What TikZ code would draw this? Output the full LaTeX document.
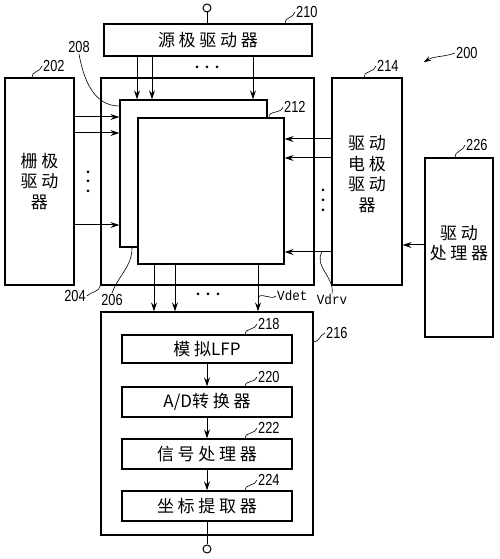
\documentclass[tikz,border=0pt]{standalone}
\usepackage{fontspec}
\usetikzlibrary{arrows.meta}
\newfontfamily\cjkfont[LetterSpace=22]{Noto Sans CJK SC}
\newfontfamily\latfont{Noto Sans CJK SC}
\newfontfamily\numfont[FakeStretch=0.8]{Liberation Sans}
\newfontfamily\vfont[FakeStretch=0.9]{Liberation Mono}

\begin{document}
\begin{tikzpicture}[x=1pt,y=1pt,
  txt/.style={inner sep=0pt,align=center,font=\cjkfont\fontsize{17}{20.5}\selectfont},
  box/.style={txt,draw,line width=1.3pt,fill=white},
  num/.style={inner sep=1pt,font=\numfont\fontsize{16}{16}\selectfont},
  vlab/.style={inner sep=1pt,font=\vfont\fontsize{14}{14}\selectfont},
  arr/.style={line width=1pt,-{Stealth[length=9pt,width=6pt]}},
  lead/.style={line width=0.6pt},
  term/.style={draw,circle,line width=1pt,minimum size=8pt,inner sep=0pt}]
\useasboundingbox (0,0) rectangle (500,559);

\node[term] (tin) at (207,551) {};
\node[box,minimum width=208pt,minimum height=32pt] (srcdrv) at (208,519) {源极驱动器};
\node[box,minimum width=213pt,minimum height=207pt] (panel) at (207.5,377.5) {};
\node[box,minimum width=147pt,minimum height=147pt] (back) at (193.5,385.5) {};
\node[box,minimum width=146pt,minimum height=146pt] (front) at (211,368) {};
\node[box,minimum width=69pt,minimum height=207pt] (gatedrv) at (39.5,377.5) {栅极\\驱动\\器};
\node[box,minimum width=70pt,minimum height=207pt] (elecdrv) at (367,377.5) {};
\node[txt] (electxt) at (367,385) {驱动\\电极\\驱动\\器};
\node[box,minimum width=68pt,minimum height=179pt] (proc) at (459,311.5) {};
\node[txt] (proctxt) at (459,316) {驱动\\处理器};
\node[box,minimum width=212pt,minimum height=223pt] (detect) at (207,135.5) {};
\node[box,minimum width=170pt,minimum height=28pt] (lfp) at (207,210) {模拟{\latfont LFP}};
\node[box,minimum width=170pt,minimum height=30pt] (adc) at (207,157) {{\latfont A/D}转换器};
\node[box,minimum width=170pt,minimum height=30pt] (sigproc) at (207,105) {信号处理器};
\node[box,minimum width=170pt,minimum height=30pt] (coordext) at (207,53) {坐标提取器};
\node[term] (tout) at (207,10) {};

\node[num,anchor=west] (l210) at (295,547) {210};
\node[num,anchor=west] (l202) at (42,493) {202};
\node[num] (l208) at (79,512) {208};
\node[num,anchor=west] (l212) at (283,452) {212};
\node[num,anchor=west] (l214) at (376,493) {214};
\node[num,anchor=west] (l200) at (455,506) {200};
\node[num,anchor=west] (l226) at (465,414) {226};
\node[num] (l204) at (75,263) {204};
\node[num] (l206) at (112,259) {206};
\node[vlab,anchor=west] (lvdet) at (276,263) {Vdet};
\node[vlab] (lvdrv) at (332,259) {Vdrv};
\node[num,anchor=west] (l216) at (325,226) {216};
\node[num,anchor=west] (l218) at (257,235) {218};
\node[num,anchor=west] (l220) at (257,182) {220};
\node[num,anchor=west] (l222) at (257,131) {222};
\node[num,anchor=west] (l224) at (257,79) {224};
\coordinate (p200) at (424,497);
\coordinate (vd) at (258,262);
\coordinate (vr) at (322,307);

\draw[line width=1pt] (tin) -- (tin |- srcdrv.north);
\draw[line width=1pt] (coordext) -- (tout);
\foreach \x in {137,152,253} \draw[arr] (srcdrv.south -| \x,0) -- (back.north -| \x,0);
\foreach \y in {442,426,334} \draw[arr] (gatedrv.east |- 0,\y) -- (back.west |- 0,\y);
\foreach \y in {420,401,307} \draw[arr] (elecdrv.west |- 0,\y) -- (front.east |- 0,\y);
\draw[arr] (proc.west |- 0,314) -- (elecdrv.east |- 0,314);
\foreach \x in {154,175,258} \draw[arr] (front.south -| \x,0) -- (detect.north -| \x,0);
\draw[arr] (lfp) -- (adc);
\draw[arr] (adc) -- (sigproc);
\draw[arr] (sigproc) -- (coordext);

\foreach \x in {197,207,217} \fill (\x,492) circle (1.5pt);
\foreach \y in {387,378,368} \fill (88,\y) circle (1.5pt);
\foreach \y in {369,359,349} \fill (323,\y) circle (1.5pt);
\foreach \x in {198,208,218} \fill (\x,265) circle (1.5pt);

\draw[lead] (srcdrv.north -| 285,0) to[out=100,in=-100] (l210.west);
\draw[lead] (gatedrv.north -| 32,0) to[out=100,in=-100] (l202.west);
\draw[lead] (l208.south) to[out=-80,in=180] (back.west |- 0,453);
\draw[lead] (front.north -| 269,0) to[out=100,in=-100] (l212.west);
\draw[lead] (elecdrv.north -| 364,0) to[out=100,in=-100] (l214.west);
\draw[lead] (proc.north -| 455,0) to[out=100,in=-100] (l226.west);
\draw[lead,-{Stealth[length=7pt,width=5pt]}] (l200.west) to[out=200,in=30] (p200);
\draw[lead] (panel.south west) to[out=-100,in=45] (l204.east);
\draw[lead] (back.south -| 132,0) to[out=-90,in=70] (l206.north);
\draw[lead] (vd) to[out=40,in=220] (lvdet.west);
\draw[lead] (vr) to[out=-120,in=80] (lvdrv.north);
\draw[lead] (detect.east |- 0,217) to[out=0,in=-160] (l216.west);
\draw[lead] (lfp.north -| 245,0) to[out=100,in=-100] (l218.west);
\draw[lead] (adc.north -| 245,0) to[out=100,in=-100] (l220.west);
\draw[lead] (sigproc.north -| 245,0) to[out=100,in=-100] (l222.west);
\draw[lead] (coordext.north -| 245,0) to[out=100,in=-100] (l224.west);
\end{tikzpicture}
\end{document}
